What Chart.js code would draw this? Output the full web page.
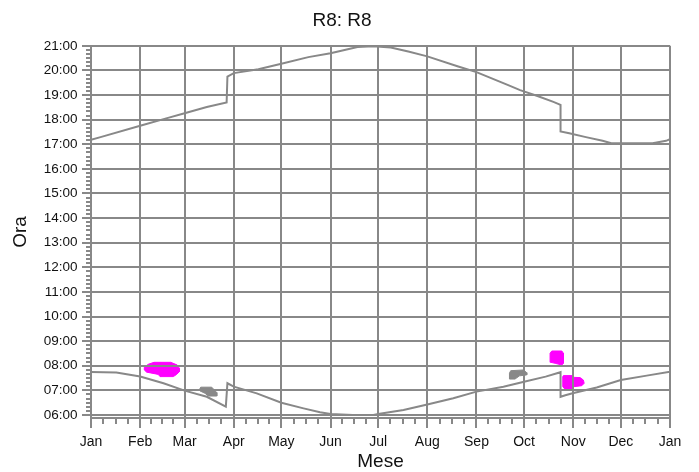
<!DOCTYPE html>
<html>
<head>
<meta charset="utf-8">
<script src="https://cdn.jsdelivr.net/npm/chart.js@4.4.1/dist/chart.umd.min.js"></script>
<style>
  body { margin: 0; background: #fff; }
</style>
</head>
<body>
<canvas id="grafico" width="699" height="472"></canvas>
<script>
// mesi sull'asse x (giorno dell'anno di inizio)
var mesi = ['Jan', 'Feb', 'Mar', 'Apr', 'May', 'Jun', 'Jul', 'Aug', 'Sep', 'Oct', 'Nov', 'Dec', 'Jan'];
var inizioMese = [0, 31, 59, 90, 120, 151, 181, 212, 243, 273, 304, 334, 365];

// tramonto (ora decimale)
var tramontoGiorno = [0, 6, 31, 48, 59, 73, 85.5, 86, 90, 105.5, 120, 137, 151, 168, 178, 189, 200, 212, 231.5, 243, 263, 270.5, 281, 291.5, 296, 296, 301.5, 312, 322.5, 328, 354, 362.5, 365];
var tramontoOra = [17.18, 17.29, 17.75, 18.06, 18.26, 18.51, 18.70, 19.75, 19.89, 20.05, 20.27, 20.54, 20.70, 20.95, 20.98, 20.93, 20.77, 20.57, 20.16, 19.93, 19.40, 19.20, 18.97, 18.72, 18.60, 17.52, 17.45, 17.29, 17.14, 17.04, 17.04, 17.14, 17.21];

// alba
var albaGiorno = [0, 16, 31, 45.7, 59, 73, 85, 86, 90, 104.5, 120, 134, 144.4, 151, 165, 178, 182, 197, 212, 228.4, 243, 260, 273, 286.6, 296, 296, 299, 303.6, 318.8, 334, 350.3, 365];
var albaOra = [7.75, 7.73, 7.56, 7.29, 6.99, 6.74, 6.34, 7.29, 7.15, 6.88, 6.50, 6.27, 6.11, 6.04, 6.00, 6.00, 6.05, 6.20, 6.43, 6.68, 6.95, 7.15, 7.35, 7.56, 7.74, 6.74, 6.80, 6.88, 7.12, 7.42, 7.60, 7.76];

// zone di riflesso (contorni)
var riflesso1Giorno = [39.7, 50.3, 54.4, 55.7, 55.7, 54.0, 51.9, 43.5, 42.4, 35.1, 33.6, 33.6, 36.1];
var riflesso1Ora = [8.14, 8.14, 8.03, 7.90, 7.76, 7.65, 7.56, 7.56, 7.65, 7.74, 7.83, 7.94, 8.06];
var riflesso2Giorno = [290.5, 296.8, 297.8, 297.8, 296.8, 292.6, 289.9, 289.4];
var riflesso2Ora = [8.60, 8.60, 8.51, 8.10, 8.03, 8.10, 8.14, 8.51];
var riflesso3Giorno = [297.8, 303.1, 304.1, 308.3, 310.4, 310.9, 309.4, 304.1, 303.1, 298.9, 297.4, 297.4];
var riflesso3Ora = [7.60, 7.60, 7.53, 7.52, 7.42, 7.29, 7.19, 7.15, 7.06, 7.04, 7.15, 7.56];

// zone grigie
var grigio1Giorno = [69.2, 76.1, 79.3, 79.3, 74.0, 71.9, 68.7, 68.7];
var grigio1Ora = [7.13, 7.13, 6.91, 6.77, 6.77, 6.88, 6.98, 7.09];
var grigio2Giorno = [264.6, 272.6, 274.7, 274.7, 270.1, 267.3, 263.8, 263.8];
var grigio2Ora = [7.80, 7.83, 7.72, 7.63, 7.59, 7.46, 7.46, 7.70];

var grigio = '#888888';
var magenta = '#ff00ff';

function punti(giorni, ore) {
  return giorni.map(function (g, i) { return { x: g, y: ore[i] }; });
}
function chiuso(giorni, ore) {
  var p = punti(giorni, ore);
  p.push(p[0]);
  return p;
}
function linea(giorni, ore) {
  return { data: punti(giorni, ore), showLine: true, borderColor: grigio, borderWidth: 2, pointRadius: 0, fill: false };
}
function zona(giorni, ore, colore) {
  return { data: chiuso(giorni, ore), showLine: true, borderColor: colore, backgroundColor: colore, borderWidth: 1, pointRadius: 0, fill: 'shape' };
}
function soloPrincipali(ctx) {
  return ctx.tick && ctx.tick.major ? grigio : 'rgba(0,0,0,0)';
}
function hhmm(v) {
  var h = Math.round(v);
  return (h < 10 ? '0' : '') + h + ':00';
}

// tacche lunghe sulle divisioni principali
var tacchePrincipali = {
  id: 'tacchePrincipali',
  afterDraw: function (chart) {
    var ctx = chart.ctx, sx = chart.scales.x, sy = chart.scales.y;
    ctx.save();
    ctx.strokeStyle = grigio;
    ctx.lineWidth = 2;
    ctx.beginPath();
    sx.ticks.forEach(function (t) {
      if (!t.major) return;
      var px = Math.round(sx.getPixelForValue(t.value));
      ctx.moveTo(px, sx.top);
      ctx.lineTo(px, sx.top + 10);
    });
    sy.ticks.forEach(function (t) {
      if (!t.major) return;
      var py = Math.round(sy.getPixelForValue(t.value));
      ctx.moveTo(sy.right - 9, py);
      ctx.lineTo(sy.right, py);
    });
    ctx.stroke();
    ctx.restore();
  }
};

Chart.defaults.font.family = '"Liberation Sans", Arial, sans-serif';
Chart.defaults.color = '#111';

var idhtml = document.getElementById('grafico').getContext('2d');
var g_sole = new Chart(idhtml, {
  type: 'scatter',
  data: {
    datasets: [
      linea(tramontoGiorno, tramontoOra),
      linea(albaGiorno, albaOra),
      zona(riflesso1Giorno, riflesso1Ora, magenta),
      zona(riflesso2Giorno, riflesso2Ora, magenta),
      zona(riflesso3Giorno, riflesso3Ora, magenta),
      zona(grigio1Giorno, grigio1Ora, grigio),
      zona(grigio2Giorno, grigio2Ora, grigio)
    ]
  },
  options: {
    responsive: false,
    animation: false,
    events: [],
    layout: { padding: { left: 0, right: 15, top: 0, bottom: 0 } },
    plugins: {
      legend: { display: false },
      tooltip: { enabled: false },
      title: {
        display: true,
        text: 'R8: R8',
        color: '#111',
        font: { size: 19, weight: 'normal' },
        padding: { top: 9, bottom: 14 }
      }
    },
    scales: {
      x: {
        type: 'linear',
        min: 0,
        max: 365,
        afterBuildTicks: function (scale) {
          var t = [];
          for (var i = 0; i < inizioMese.length; i++) {
            t.push({ value: inizioMese[i], major: true });
            if (i < inizioMese.length - 1) {
              var l = inizioMese[i + 1] - inizioMese[i];
              for (var k = 1; k < 4; k++) t.push({ value: inizioMese[i] + l * k / 4 });
            }
          }
          scale.ticks = t;
        },
        afterFit: function (scale) {
          scale.height = 54;
          scale.paddingRight = 29;
        },
        ticks: {
          autoSkip: false,
          maxRotation: 0,
          padding: 10,
          font: { size: 14 },
          callback: function (v) {
            var k = inizioMese.indexOf(v);
            return k >= 0 ? mesi[k] : '';
          }
        },
        grid: { z: 1, color: soloPrincipali, lineWidth: 2, tickColor: grigio, tickWidth: 2, tickLength: 6 },
        border: { z: 2, color: grigio, width: 2 },
        title: { display: true, text: 'Mese', color: '#111', font: { size: 19 }, padding: { top: 0, bottom: -1 } }
      },
      y: {
        type: 'linear',
        min: 5.878,
        max: 21,
        afterBuildTicks: function (scale) {
          var t = [];
          for (var i = 0; i <= 90; i++) {
            t.push({ value: 6 + i / 6, major: i % 6 === 0 });
          }
          scale.ticks = t;
        },
        afterFit: function (scale) {
          scale.width = 91;
        },
        ticks: {
          autoSkip: false,
          padding: 8.5,
          font: { size: 13.5 },
          callback: function (v, i, t) {
            return t[i].major ? hhmm(v) : '';
          }
        },
        grid: { z: 1, color: soloPrincipali, lineWidth: 2, tickColor: grigio, tickWidth: 2, tickLength: 5 },
        border: { z: 2, color: grigio, width: 2 },
        title: { display: true, text: 'Ora', color: '#111', font: { size: 19 }, padding: { top: 9, bottom: 0 } }
      }
    }
  },
  plugins: [tacchePrincipali]
});
</script>
</body>
</html>
